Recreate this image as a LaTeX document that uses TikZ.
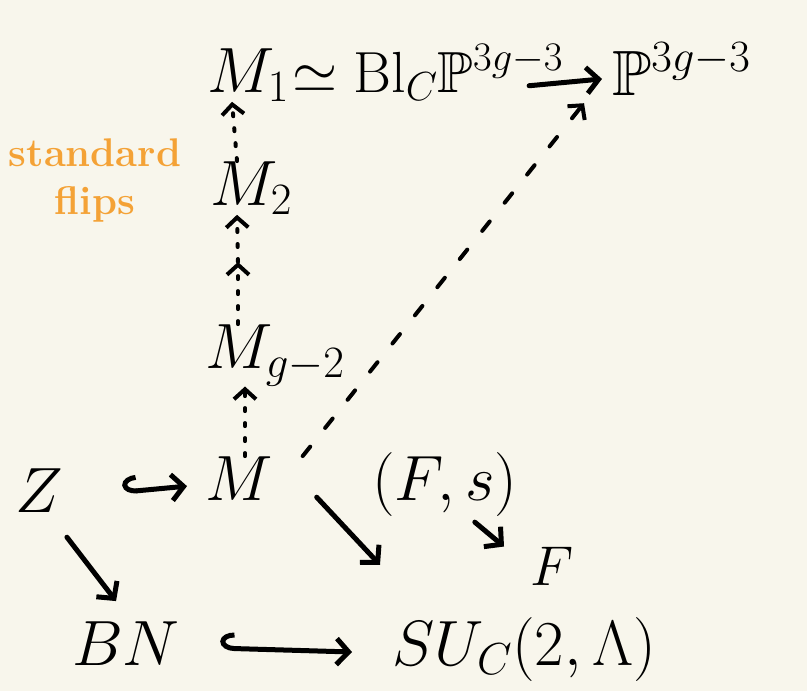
\documentclass[tikz,border=0pt]{standalone}
\usepackage{fix-cm}
\usepackage{amssymb}
\usetikzlibrary{arrows.meta}
\definecolor{paper}{HTML}{F8F6EC}
\definecolor{flipcol}{HTML}{F4A236}
\tikzset{
  big/.style={font=\fontsize{64}{70}\selectfont, inner sep=0pt, anchor=base west},
  small/.style={font=\fontsize{56}{60}\selectfont, inner sep=0pt, anchor=base west},
  note/.style={font=\fontsize{40}{48}\selectfont\bfseries, text=flipcol, inner sep=0pt, align=center},
  map/.style={line width=5pt, -{Straight Barb[length=12pt,width=26pt]}},
  hookmap/.style={line width=5pt, {Hooks[right,length=14pt,width=32pt]}-{Straight Barb[length=12pt,width=26pt]}},
  ratmap/.style={line width=4pt, dash pattern=on 3pt off 12pt, -{Straight Barb[length=10pt,width=22pt]}},
  diagmap/.style={line width=4pt, dash pattern=on 12pt off 24pt, -{Straight Barb[length=10pt,width=22pt]}},
}
\begin{document}
\begin{tikzpicture}[x=1pt, y=-1pt, line join=round, line cap=round]
	\fill[paper] (0,0) rectangle (807,691);
	\useasboundingbox (0,0) rectangle (807,691);
	% the chain of flips
	\node[big] (m1) at (207,92) {$M_1$};
	\node[big, font=\fontsize{58}{64}\selectfont] (bl) at (292,92) {$\simeq \mathrm{Bl}_C\mathbb{P}^{3g-3}$};
	\node[big] (p3) at (612,95) {$\mathbb{P}^{3g-3}$};
	\node[big] (m2) at (210,205) {$M_2$};
	\node[big] (mg2) at (205,368) {$M_{g-2}$};
	\node[note] (flips) at (95,180) {standard\\flips};
	\coordinate (mid) at (238,262);
	\draw[map] ([xshift=-34pt,yshift=-13pt]bl.east) -- ([xshift=-10pt,yshift=-10pt]p3.west);
	\draw[ratmap] ([xshift=27pt]m2.north west) -- ([xshift=25pt]m1.south west);
	\draw[ratmap] (mid) -- ([xshift=27pt]m2.south west);
	\draw[ratmap] ([xshift=33pt]mg2.north west) -- (mid);
	% bottom square
	\node[big] (z) at (15,512) {$Z$};
	\node[big] (m) at (205,500) {$M$};
	\node[big] (fs) at (372,500) {$(F,s)$};
	\node[small] (f) at (530,585) {$F$};
	\node[big] (bn) at (72,665) {$BN$};
	\node[big] (su) at (392,665) {$SU_C(2,\Lambda)$};
	\draw[ratmap] ([xshift=40pt]m.north west) -- ([xshift=40pt]mg2.south west);
	\draw[diagmap] ([xshift=30pt]m.north east) -- ([xshift=-28pt,yshift=-8pt]p3.south west);
	\draw[hookmap] ([xshift=60pt,yshift=-2pt]z.east) -- ([xshift=-18pt,yshift=-8pt]m.west);
	\draw[hookmap] ([xshift=40pt,yshift=-5pt]bn.east) -- ([xshift=-40pt,yshift=-3pt]su.west);
	\draw[map] (z.south) ++(28,25) -- ([xshift=-10pt,yshift=20pt]bn.north);
	\draw[map] ([xshift=44pt,yshift=3pt]m.south east) -- ([xshift=-12pt,yshift=52pt]su.north west);
	\draw[map] (fs.south) ++(30,6) -- ([xshift=-26pt]f.north west);
\end{tikzpicture}
\end{document}
